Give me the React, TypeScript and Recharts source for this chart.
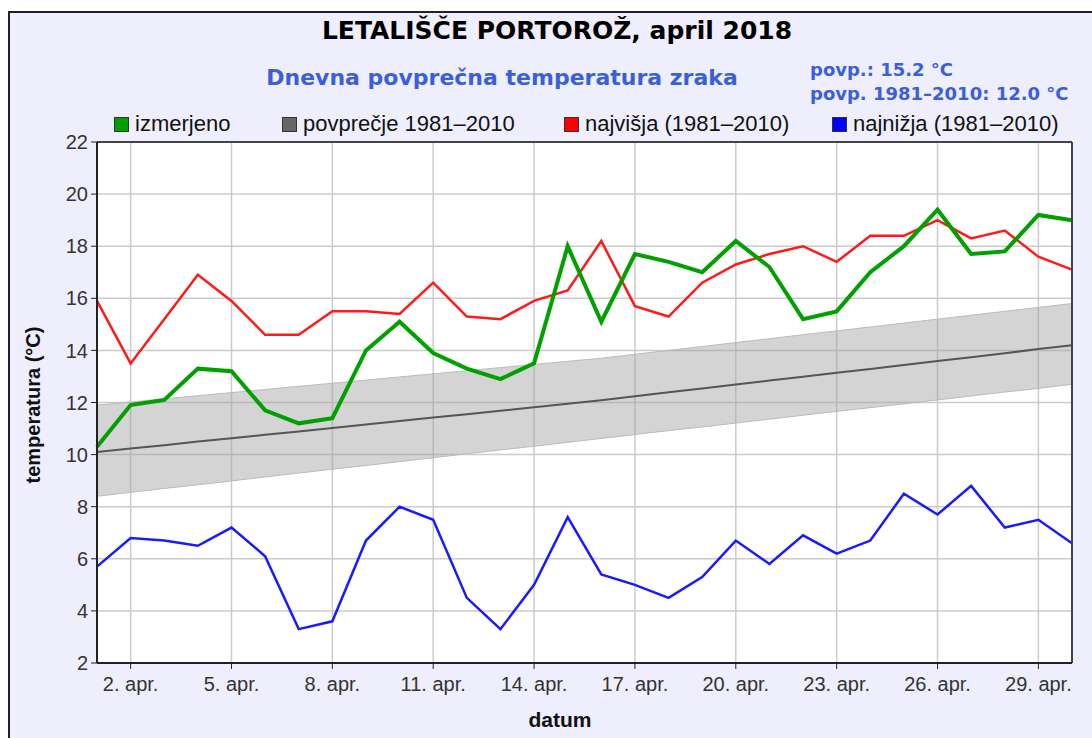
import { ComposedChart, Line, Area, XAxis, YAxis, CartesianGrid, ReferenceLine } from 'recharts'

const days = [1, 2, 3, 4, 5, 6, 7, 8, 9, 10, 11, 12, 13, 14, 15, 16, 17, 18, 19, 20, 21, 22, 23, 24, 25, 26, 27, 28, 29, 30]
const izmerjeno = [10.3, 11.9, 12.1, 13.3, 13.2, 11.7, 11.2, 11.4, 14.0, 15.1, 13.9, 13.3, 12.9, 13.5, 18.0, 15.1, 17.7, 17.4, 17.0, 18.2, 17.2, 15.2, 15.5, 17.0, 18.0, 19.4, 17.7, 17.8, 19.2, 19.0]
const povprecje = [10.1, 10.23, 10.36, 10.5, 10.63, 10.76, 10.89, 11.02, 11.16, 11.29, 11.42, 11.55, 11.68, 11.82, 11.95, 12.09, 12.24, 12.39, 12.54, 12.69, 12.84, 12.99, 13.14, 13.29, 13.44, 13.59, 13.74, 13.89, 14.05, 14.2]
const najvisja = [15.9, 13.5, 15.2, 16.9, 15.9, 14.6, 14.6, 15.5, 15.5, 15.4, 16.6, 15.3, 15.2, 15.9, 16.3, 18.2, 15.7, 15.3, 16.6, 17.3, 17.7, 18.0, 17.4, 18.4, 18.4, 19.0, 18.3, 18.6, 17.6, 17.1]
const najnizja = [5.7, 6.8, 6.7, 6.5, 7.2, 6.1, 3.3, 3.6, 6.7, 8.0, 7.5, 4.5, 3.3, 5.0, 7.6, 5.4, 5.0, 4.5, 5.3, 6.7, 5.8, 6.9, 6.2, 6.7, 8.5, 7.7, 8.8, 7.2, 7.5, 6.6]
const bandLow = [8.4, 8.55, 8.7, 8.84, 8.99, 9.14, 9.29, 9.44, 9.58, 9.73, 9.88, 10.03, 10.18, 10.32, 10.47, 10.62, 10.77, 10.92, 11.06, 11.21, 11.36, 11.51, 11.66, 11.8, 11.95, 12.1, 12.25, 12.4, 12.54, 12.7]
const bandHigh = [11.9, 12.02, 12.14, 12.26, 12.38, 12.5, 12.62, 12.74, 12.86, 12.98, 13.1, 13.22, 13.34, 13.46, 13.58, 13.7, 13.85, 14.0, 14.15, 14.3, 14.45, 14.6, 14.75, 14.9, 15.05, 15.2, 15.35, 15.5, 15.65, 15.8]

const xTicks = [2, 5, 8, 11, 14, 17, 20, 23, 26, 29]
const yTicks = [2, 4, 6, 8, 10, 12, 14, 16, 18, 20, 22]

const legendItems = [
  { name: 'izmerjeno', color: '#00a000' },
  { name: 'povprečje 1981–2010', color: '#666666' },
  { name: 'najvišja (1981–2010)', color: '#ff0000' },
  { name: 'najnižja (1981–2010)', color: '#0000ff' },
]
// left edge of each legend entry, px
const legendLeft = [114, 282, 564, 832]

const data = days.map((d, i) => ({
  day: d,
  izmerjeno: izmerjeno[i],
  povprecje: povprecje[i],
  najvisja: najvisja[i],
  najnizja: najnizja[i],
  band: [bandLow[i], bandHigh[i]],
}))

const arial = '"Liberation Sans", Arial, sans-serif'
const dejavu = '"DejaVu Sans", Verdana, sans-serif'
const blue = '#3a5fd9'

export default function App() {
  return (
    <div style={{ position: 'absolute', left: 0, top: 0, width: 1092, height: 738, overflow: 'hidden', background: '#fff', fontFamily: arial }}>
      <div style={{ position: 'absolute', left: 8, top: 11, width: 1100, height: 760, background: '#eeeefc', borderTop: '2px solid #222', borderLeft: '2px solid #222' }} />

      <div style={{ position: 'absolute', left: 0, top: 0 }}>
        <ComposedChart width={1092} height={738} data={data} margin={{ top: 142, right: 20, bottom: 45, left: 37 }}>
          <CartesianGrid stroke="#cccccc" strokeWidth={1.5} fill="#ffffff" fillOpacity={1} />
          <XAxis
            dataKey="day"
            type="number"
            domain={[1, 30]}
            ticks={xTicks}
            interval={0}
            height={30}
            tickFormatter={(d) => `${d}. apr.`}
            tick={{ fill: '#333', fontSize: 20, fontFamily: arial }}
            tickSize={6}
            tickMargin={8}
            tickLine={{ stroke: '#222' }}
            axisLine={{ stroke: '#222', strokeWidth: 2 }}
          />
          <YAxis
            type="number"
            domain={[2, 22]}
            ticks={yTicks}
            interval={0}
            width={60}
            tick={{ fill: '#333', fontSize: 20, fontFamily: arial }}
            tickSize={6}
            tickMargin={3}
            tickLine={{ stroke: '#222' }}
            axisLine={{ stroke: '#222', strokeWidth: 2 }}
          />
          <Area dataKey="band" type="linear" fill="#a0a0a0" fillOpacity={0.45} stroke="#bbbbbb" strokeWidth={1} isAnimationActive={false} legendType="none" />
          <Line dataKey="povprecje" type="linear" stroke="#555555" strokeWidth={2} dot={false} isAnimationActive={false} />
          <Line dataKey="najvisja" type="linear" stroke="#ff1a1a" strokeWidth={2.5} dot={false} isAnimationActive={false} />
          <Line dataKey="najnizja" type="linear" stroke="#1a1aff" strokeWidth={2.5} dot={false} isAnimationActive={false} />
          <Line dataKey="izmerjeno" type="linear" stroke="#00a000" strokeWidth={4} dot={false} isAnimationActive={false} />
          <ReferenceLine y={22} stroke="#444" strokeWidth={2} />
          <ReferenceLine x={30} stroke="#444" strokeWidth={2} />
        </ComposedChart>
      </div>

      <div style={{ position: 'absolute', left: 557, top: 18, transform: 'translateX(-50%)', whiteSpace: 'nowrap', fontFamily: dejavu, fontWeight: 'bold', fontSize: 25, lineHeight: 1, color: '#000' }}>
        LETALIŠČE PORTOROŽ, april 2018
      </div>
      <div style={{ position: 'absolute', left: 502, top: 67, transform: 'translateX(-50%)', whiteSpace: 'nowrap', fontFamily: dejavu, fontWeight: 'bold', fontSize: 22, lineHeight: 1, color: blue }}>
        Dnevna povprečna temperatura zraka
      </div>
      <div style={{ position: 'absolute', left: 810, top: 58, whiteSpace: 'nowrap', fontFamily: dejavu, fontWeight: 'bold', fontSize: 18, lineHeight: '24px', color: blue }}>
        <div>povp.: 15.2 °C</div>
        <div>povp. 1981–2010: 12.0 °C</div>
      </div>

      {legendItems.map((it, i) => (
        <div key={it.name} style={{ position: 'absolute', left: legendLeft[i], top: 113, display: 'flex', alignItems: 'center', gap: 6, whiteSpace: 'nowrap' }}>
          <div style={{ width: 13, height: 13, background: it.color, border: '1px solid #333' }} />
          <div style={{ fontSize: 22, lineHeight: 1, color: '#111' }}>{it.name}</div>
        </div>
      ))}

      <div style={{ position: 'absolute', left: 33, top: 405, transform: 'translate(-50%, -50%) rotate(-90deg)', whiteSpace: 'nowrap', fontWeight: 'bold', fontSize: 20, lineHeight: 1, color: '#111' }}>
        temperatura (°C)
      </div>
      <div style={{ position: 'absolute', left: 560, top: 709, transform: 'translateX(-50%)', whiteSpace: 'nowrap', fontWeight: 'bold', fontSize: 21, lineHeight: 1, color: '#111' }}>
        datum
      </div>
    </div>
  )
}
